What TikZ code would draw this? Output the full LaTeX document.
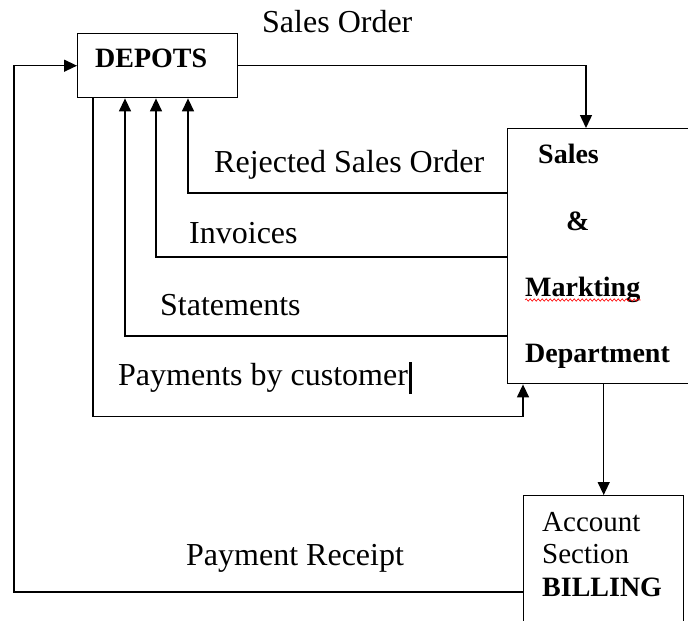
\documentclass[tikz,border=0pt]{standalone}
\usepackage{fontspec}
\setmainfont{Liberation Serif}
\usetikzlibrary{arrows.meta,decorations.pathmorphing}
\begin{document}
\begin{tikzpicture}[x=1pt,y=-1pt,
  box/.style={draw, line width=1.4pt, rectangle, inner sep=0pt, anchor=north west},
  arr/.style={line width=1.4pt, -{Triangle[length=13pt,width=12pt]}},
  lab/.style={anchor=base west, inner sep=0pt, font=\fontsize{32}{36}\selectfont},
  boxtxt/.style={anchor=base west, inner sep=0pt, font=\fontsize{28}{32}\selectfont\bfseries},
  acct/.style={anchor=base west, inner sep=0pt, font=\fontsize{29}{32}\selectfont}]
\useasboundingbox (0,0) rectangle (688,621);
\clip (0,0) rectangle (688,621);

% boxes
\node[box, minimum width=160pt, minimum height=64pt] (depots) at (77,33) {};
\node[box, minimum width=220pt, minimum height=255pt] (sales) at (507,128) {};
\node[box, minimum width=160pt, minimum height=170pt] (billing) at (523,495) {};

% box captions
\node[boxtxt] (tdep) at (95,67) {DEPOTS};
\node[boxtxt] (ts1) at (538,163) {Sales};
\node[boxtxt] (ts2) at (566,230) {\&};
\node[boxtxt] (ts3) at (525,296) {Markting};
\node[boxtxt] (ts4) at (525,362) {Department};
\node[acct] (tb1) at (542,531) {Account};
\node[acct] (tb2) at (542,563) {Section};
\node[boxtxt] (tb3) at (542,596) {BILLING};
\draw[red, line width=0.6pt, decorate,
      decoration={snake, amplitude=1.2pt, segment length=4pt}]
  ([yshift=-4pt]ts3.base west) -- ([yshift=-4pt]ts3.base east);

% flow labels
\node[lab] (lso) at (262,32) {Sales Order};
\node[lab] (lrej) at (214,172) {Rejected Sales Order};
\node[lab] (linv) at (189,243) {Invoices};
\node[lab] (lst) at (160,315) {Statements};
\node[lab] (lpay) at (118,385) {Payments by customer};
\node[lab] (lrec) at (186,565) {Payment Receipt};
\draw[line width=3pt] ([xshift=2pt]lpay.base east) ++(0,9) -- ++(0,-32);

% connectors
\draw[arr] (depots.east) -| ([xshift=79pt]sales.north west);
\draw[arr] ([yshift=-65pt]sales.north west) -| ([xshift=111pt]depots.south west);
\draw[arr] ([yshift=-129pt]sales.north west) -| ([xshift=79pt]depots.south west);
\draw[arr] ([yshift=-208pt]sales.north west) -| ([xshift=48pt]depots.south west);
\draw[arr] ([xshift=16pt]depots.south west) |- ([xshift=16pt,yshift=-32pt]sales.south west)
           -- ([xshift=16pt]sales.south west);
\draw[arr] (billing.north |- sales.south) -- (billing.north);
\draw[arr] ([yshift=-97pt]billing.north west) -| ([xshift=-63pt]depots.west) -- (depots.west);
\end{tikzpicture}
\end{document}
